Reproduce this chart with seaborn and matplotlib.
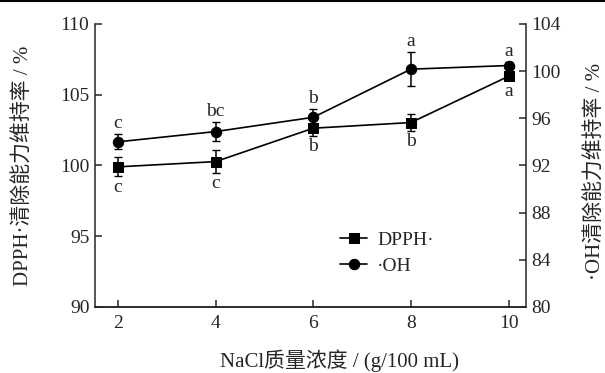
import numpy as np
import pandas as pd
import matplotlib
matplotlib.use("Agg")
import matplotlib.pyplot as plt
import seaborn as sns

# data
nacl = [2, 4, 6, 8, 10]
dpph = [99.9, 100.27, 102.63, 103.03, 106.3]
dpph_err = [0.68, 0.8, 0.55, 0.6, 0.3]
dpph_letters = ["c", "c", "b", "b", "a"]
oh = [94.0, 94.87, 96.08, 100.16, 100.47]
oh_err = [0.64, 0.78, 0.7, 1.44, 0.3]
oh_letters = ["c", "bc", "b", "a", "a"]

sns.set_style("ticks")
plt.rcParams['font.family'] = ['Liberation Serif', 'Noto Sans CJK SC', 'DejaVu Sans']
plt.rcParams['font.size'] = 14
plt.rcParams['axes.linewidth'] = 1.1

df = pd.DataFrame({"nacl": nacl, "dpph": dpph, "oh": oh})

fig = plt.figure(figsize=(6.05, 3.73), dpi=100)
ax = fig.add_axes([0.157, 0.177, 0.712, 0.759])
ax2 = ax.twinx()

# DPPH on left axis
sns.lineplot(data=df, x="nacl", y="dpph", ax=ax, color="black", marker="s",
             markersize=7, markeredgecolor="black", linewidth=1.2, label="DPPH·", legend=False)
ax.errorbar(nacl, dpph, yerr=dpph_err, fmt="none", ecolor="black", elinewidth=1.1, capsize=3)

# OH on right axis
sns.lineplot(data=df, x="nacl", y="oh", ax=ax2, color="black", marker="o",
             markersize=7.5, markeredgecolor="black", linewidth=1.2, label="·OH", legend=False)
ax2.errorbar(nacl, oh, yerr=oh_err, fmt="none", ecolor="black", elinewidth=1.1, capsize=3)

for x, y, e, t in zip(nacl, dpph, dpph_err, dpph_letters):
    ax.annotate(t, (x, y - e), xytext=(0, -11), textcoords="offset points",
                ha="center", va="baseline", fontsize=14)
for x, y, e, t in zip(nacl, oh, oh_err, oh_letters):
    ax2.annotate(t, (x, y + e), xytext=(0, 4.3), textcoords="offset points",
                 ha="center", va="baseline", fontsize=14)

ax.set_xlim(1.53, 10.35)
ax.set_ylim(90, 110)
ax2.set_ylim(80, 104)
ax.set_xticks(nacl)
ax.set_yticks([90, 95, 100, 105, 110])
ax2.set_yticks([80, 84, 88, 92, 96, 100, 104])

ax.tick_params(axis="both", direction="in", length=5, width=1.1, labelsize=14, pad=4)
ax.tick_params(axis="x", top=False, pad=6)
ax2.tick_params(axis="y", direction="in", length=5, width=1.1, labelsize=14, pad=4)

for a in (ax, ax2):
    a.spines["top"].set_visible(False)
ax.spines["right"].set_visible(False)
ax2.spines["left"].set_visible(False)

ax.set_xlabel("NaCl质量浓度 / (g/100 mL)", fontsize=15, va="center", ha="center")
ax.set_ylabel("DPPH·清除能力维持率 / %", fontsize=15, va="center", ha="center")
ax2.set_ylabel("·OH清除能力维持率 / %", fontsize=15, rotation=90, va="center", ha="center")
ax.xaxis.set_label_coords(0.568, -0.19)
ax.yaxis.set_label_coords(-0.166, 0.5)
ax2.yaxis.set_label_coords(1.162, 0.48)

h1, l1 = ax.get_legend_handles_labels()
h2, l2 = ax2.get_legend_handles_labels()
ax2.legend(h1 + h2, l1 + l2, loc="center", bbox_to_anchor=(0.678, 0.19), frameon=False,
           fontsize=14, handlelength=1.4, handletextpad=0.5, labelspacing=0.45)

# thin frame line at the top of the page
fig.add_artist(plt.Line2D([0, 1], [0.998, 0.998], color="black", linewidth=1.5,
                          transform=fig.transFigure))

fig.savefig("out.png", dpi=100)
